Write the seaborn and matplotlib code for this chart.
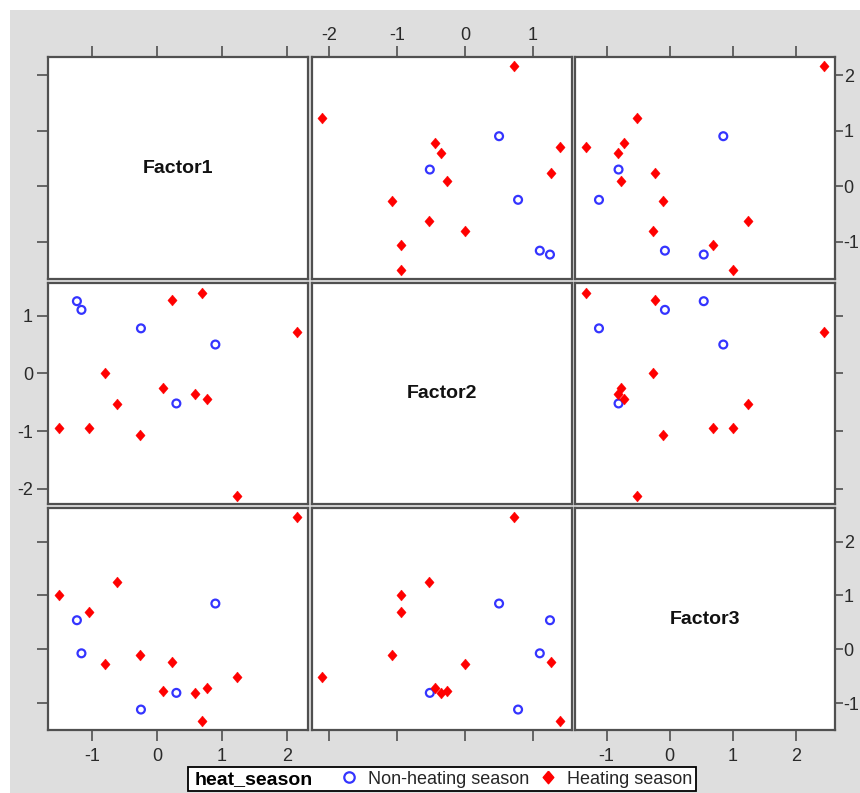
import numpy as np
import pandas as pd
import matplotlib
matplotlib.use("Agg")
import matplotlib.pyplot as plt
import seaborn as sns
from matplotlib.patches import Rectangle
from matplotlib.lines import Line2D

# ---- data ----
season = ["Non-heating season"] * 5 + ["Heating season"] * 12
factor1 = [-1.23, -1.16, -0.245, 0.90, 0.30,
           0.235, 0.70, 2.155, -0.80, -0.62, 0.10, 0.59, 0.77, -1.51, -1.05, -0.265, 1.225]
factor2 = [1.25, 1.10, 0.78, 0.50, -0.52,
           1.265, 1.40, 0.72, 0.0, -0.535, -0.26, -0.355, -0.45, -0.95, -0.95, -1.07, -2.115]
factor3 = [0.54, -0.075, -1.12, 0.85, -0.81,
           -0.23, -1.325, 2.45, -0.27, 1.245, -0.77, -0.815, -0.72, 1.0, 0.69, -0.105, -0.52]
var_names = ["Factor1", "Factor2", "Factor3"]
var_ticks = [[-1, 0, 1, 2], [-2, -1, 0, 1], [-1, 0, 1, 2]]
group_labels = ["Non-heating season", "Heating season"]
legend_title = "heat_season"

df = pd.DataFrame({"Factor1": factor1, "Factor2": factor2, "Factor3": factor3,
                   "heat_season": season})

# ---- style ----
sns.set_style("white")
plt.rcParams["font.family"] = ["Liberation Sans", "DejaVu Sans"]
plt.rcParams["axes.unicode_minus"] = False

W, H = 860, 793
fig = plt.figure(figsize=(W / 100, H / 100), dpi=100)
fig.patch.set_facecolor("white")
fig.add_artist(Rectangle((10 / W, 0), 1 - 10 / W, 1 - 10 / H, transform=fig.transFigure,
                         facecolor="#dedede", edgecolor="none", zorder=-10))

lims = [(-1.67, 2.32), (-2.26, 1.57), (-1.50, 2.62)]
col_x = [(48.3, 307.7), (311.7, 571.7), (575.0, 835.0)]
row_y = [(57.3, 279.0), (282.7, 504.0), (508.3, 730.0)]

BLUE = "#3434ff"
RED = "#ff0000"
diamond = [(0, 1), (0.85, 0), (0, -1), (-0.85, 0), (0, 1)]
spine_c = "#505050"
tick_c = "#505050"
lab_c = "#2a2a2a"

non = df[df["heat_season"] == group_labels[0]]
heat = df[df["heat_season"] == group_labels[1]]

for i in range(3):
    for j in range(3):
        x0, x1 = col_x[j]
        y0, y1 = row_y[i]
        ax = fig.add_axes([x0 / W, 1 - y1 / H, (x1 - x0) / W, (y1 - y0) / H])
        ax.set_facecolor("white")
        if i == j:
            ax.text(0.5, 0.5, var_names[i], transform=ax.transAxes, ha="center", va="center",
                    fontsize=14, fontweight="bold", color="#111111")
        else:
            xv, yv = var_names[j], var_names[i]
            sns.scatterplot(data=non, x=xv, y=yv, ax=ax, marker="o", s=32,
                            facecolors="none", edgecolor=BLUE, linewidth=1.6, legend=False)
            sns.scatterplot(data=heat, x=xv, y=yv, ax=ax, marker=diamond, s=62,
                            color=RED, edgecolor=RED, linewidth=0.3, legend=False)
        ax.set_xlabel("")
        ax.set_ylabel("")
        ax.set_xlim(*lims[j])
        ax.set_ylim(*lims[i])
        ax.set_xticks(var_ticks[j])
        ax.set_yticks(var_ticks[i])
        for sp in ax.spines.values():
            sp.set_color(spine_c)
            sp.set_linewidth(1.6)
        ax.tick_params(axis="x", which="both", direction="out", length=8, width=1.2,
                       color=tick_c, labelcolor=lab_c, labelsize=13,
                       pad=(1.5 if i == 0 else 5),
                       top=(i == 0), bottom=(i == 2),
                       labeltop=(i == 0 and j == 1),
                       labelbottom=(i == 2 and j in (0, 2)))
        ax.tick_params(axis="y", which="both", direction="out",
                       length=(6 if j == 2 else 8), width=1.2,
                       color=tick_c, labelcolor=lab_c, labelsize=13,
                       pad=(0.3 if j == 2 else 3),
                       left=(j == 0), right=(j == 2),
                       labelleft=(j == 0 and i == 1),
                       labelright=(j == 2 and i in (0, 2)))

# ---- legend ----
fig.add_artist(Rectangle((188 / W, 1 - 791 / H), (696 - 188) / W, (791 - 766.7) / H,
                         transform=fig.transFigure, facecolor="white",
                         edgecolor="black", linewidth=1.3, zorder=5))
fig.text(195 / W, 1 - 779.5 / H, legend_title, fontsize=14, fontweight="bold",
         ha="left", va="center", color="black", zorder=6)
h_non = Line2D([], [], linestyle="none", marker="o", markersize=7.5,
               markerfacecolor="none", markeredgecolor=BLUE, markeredgewidth=1.6)
h_heat = Line2D([], [], linestyle="none", marker=diamond, markersize=9,
                markerfacecolor=RED, markeredgecolor=RED)
leg = fig.legend([h_non, h_heat], group_labels, ncol=2, loc="center left",
                 bbox_to_anchor=(338 / W, 1 - 779 / H), frameon=False, fontsize=13,
                 handlelength=1.2, handletextpad=0.45, columnspacing=0.45,
                 borderpad=0, borderaxespad=0)
leg.set_zorder(7)

fig.savefig("out.png", dpi=100)
